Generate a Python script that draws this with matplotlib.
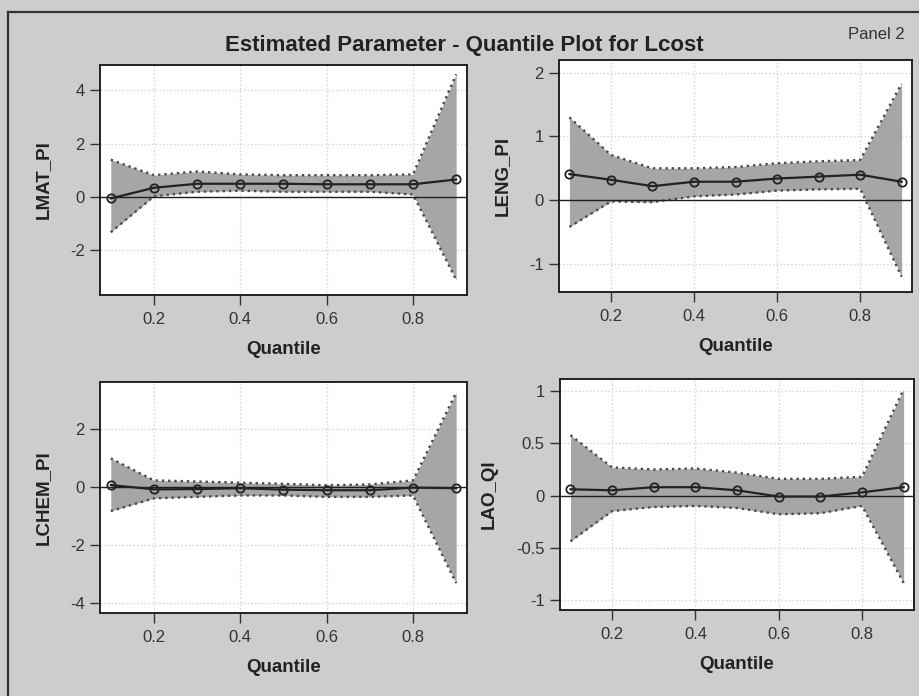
import matplotlib
matplotlib.use("Agg")
import matplotlib.pyplot as plt
from matplotlib.lines import Line2D

plt.rcParams['font.family'] = ['Liberation Sans', 'DejaVu Sans']

quantiles = [0.1, 0.2, 0.3, 0.4, 0.5, 0.6, 0.7, 0.8, 0.9]
x_ticks = [0.2, 0.4, 0.6, 0.8]

# LMAT_PI
lmat_est = [-0.05, 0.35, 0.50, 0.50, 0.50, 0.48, 0.48, 0.48, 0.66]
lmat_upper = [1.40, 0.82, 0.96, 0.85, 0.82, 0.82, 0.82, 0.85, 4.60]
lmat_lower = [-1.32, 0.03, 0.20, 0.24, 0.20, 0.20, 0.20, 0.10, -3.10]

# LENG_PI
leng_est = [0.41, 0.32, 0.22, 0.29, 0.29, 0.34, 0.37, 0.40, 0.29]
leng_upper = [1.30, 0.71, 0.50, 0.50, 0.52, 0.58, 0.61, 0.63, 1.83]
leng_lower = [-0.42, -0.02, -0.03, 0.06, 0.09, 0.15, 0.17, 0.18, -1.20]

# LCHEM_PI
lchem_est = [0.06, -0.09, -0.08, -0.05, -0.10, -0.12, -0.12, -0.03, -0.05]
lchem_upper = [0.98, 0.22, 0.18, 0.14, 0.10, 0.05, 0.08, 0.22, 3.25]
lchem_lower = [-0.84, -0.40, -0.35, -0.30, -0.30, -0.35, -0.35, -0.30, -3.33]

# LAO_QI
lao_est = [0.06, 0.05, 0.08, 0.08, 0.05, -0.01, -0.01, 0.03, 0.08]
lao_upper = [0.58, 0.27, 0.25, 0.26, 0.22, 0.16, 0.16, 0.18, 1.02]
lao_lower = [-0.44, -0.15, -0.11, -0.10, -0.12, -0.18, -0.17, -0.10, -0.84]

bg = '#cdcdcd'
band = '#a6a6a6'

fig = plt.figure(figsize=(9.19, 6.96), dpi=100, facecolor=bg)

panels = [
    ("LMAT_PI", lmat_est, lmat_upper, lmat_lower, [0.1088, 0.5761, 0.3993, 0.3305],
     (-3.67, 4.95), [-2, 0, 2, 4], ['-2', '0', '2', '4']),
    ("LENG_PI", leng_est, leng_upper, leng_lower, [0.6083, 0.5805, 0.3841, 0.3333],
     (-1.44, 2.2), [-1, 0, 1, 2], ['-1', '0', '1', '2']),
    ("LCHEM_PI", lchem_est, lchem_upper, lchem_lower, [0.1088, 0.1193, 0.3993, 0.3319],
     (-4.36, 3.62), [-4, -2, 0, 2], ['-4', '-2', '0', '2']),
    ("LAO_QI", lao_est, lao_upper, lao_lower, [0.6094, 0.1236, 0.3852, 0.3319],
     (-1.10, 1.12), [-1, -0.5, 0, 0.5, 1], ['-1', '-0.5', '0', '0.5', '1']),
]

for name, est, upper, lower, pos, ylim, yt, ytl in panels:
    ax = fig.add_axes(pos)
    ax.set_facecolor('white')
    ax.set_xlim(0.075, 0.925)
    ax.set_ylim(*ylim)
    ax.set_xticks(x_ticks)
    ax.set_xticklabels(['0.2', '0.4', '0.6', '0.8'])
    ax.set_yticks(yt)
    ax.set_yticklabels(ytl)
    ax.grid(True, color='#d4d4d4', linestyle=':', linewidth=1.0, zorder=0)
    ax.set_axisbelow(True)

    ax.fill_between(quantiles, lower, upper, color=band, linewidth=0, zorder=2)
    ax.plot(quantiles, upper, color='#4a4a4a', linestyle=':', linewidth=1.7, zorder=3)
    ax.plot(quantiles, lower, color='#4a4a4a', linestyle=':', linewidth=1.7, zorder=3)
    ax.axhline(0, color='#202020', linewidth=1.0, zorder=4)
    ax.plot(quantiles, est, color='#222222', linewidth=1.6, marker='o', markersize=6,
            markerfacecolor='none', markeredgecolor='#222222', markeredgewidth=1.3, zorder=5)

    for s in ax.spines.values():
        s.set_color('#222222')
        s.set_linewidth(1.4)
    ax.tick_params(axis='both', direction='out', length=7, width=1.0, color='#333333',
                   labelsize=12, labelcolor='#333333')
    ax.tick_params(axis='x', pad=5)
    ax.tick_params(axis='y', pad=4)
    ax.set_ylabel(name, fontsize=13.5, fontweight='bold', color='#222222', labelpad=13)
    ax.set_xlabel("Quantile", fontsize=13.5, fontweight='bold', color='#222222', labelpad=10)

fig.text(0.505, 0.935, "Estimated Parameter - Quantile Plot for Lcost", ha='center', va='center',
         fontsize=16, fontweight='bold', color='#222222')
fig.text(0.954, 0.95, "Panel 2", ha='center', va='center', fontsize=12, color='#333333')

# outer frame (top and left edges visible in the scan)
fig.add_artist(Line2D([8 / 919, 1.0], [1 - 12 / 696, 1 - 12 / 696], color='#333333', linewidth=1.6))
fig.add_artist(Line2D([8 / 919, 8 / 919], [0.0, 1 - 12 / 696], color='#333333', linewidth=1.6))

fig.savefig('out.png', dpi=100, facecolor=bg)
